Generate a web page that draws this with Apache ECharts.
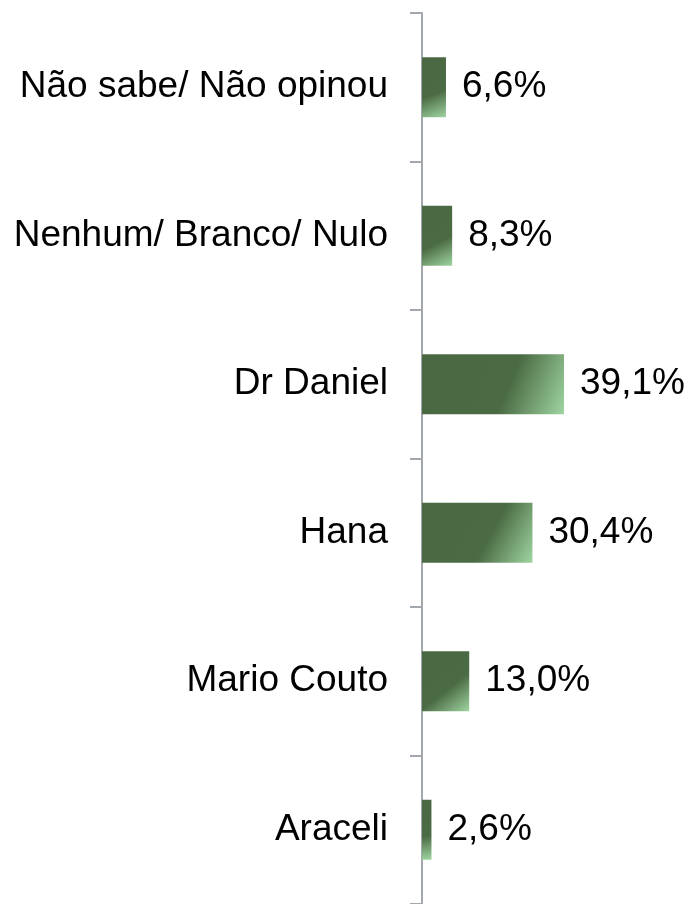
<!DOCTYPE html>
<html>
<head>
<meta charset="utf-8">
<script src="https://cdn.jsdelivr.net/npm/echarts@6/dist/echarts.min.js"></script>
<style>
  html, body { margin: 0; padding: 0; background: #fff; }
  #chart { width: 689px; height: 904px; }
</style>
</head>
<body>
<div id="chart"></div>
<script>
  // top to bottom
  const categories = ['Não sabe/ Não opinou', 'Nenhum/ Branco/ Nulo', 'Dr Daniel', 'Hana', 'Mario Couto', 'Araceli']
  const values = [6.6, 8.3, 39.1, 30.4, 13.0, 2.6]

  const chart = echarts.init(document.getElementById('chart'))
  chart.setOption({
    animation: false,
    textStyle: {fontFamily: 'Liberation Sans, Arial, sans-serif'},
    grid: {
      left: 422,
      right: 0,
      top: 13,
      height: 894
    },
    xAxis: {
      type: 'value',
      min: 0,
      max: 73.5,
      show: false
    },
    yAxis: {
      type: 'category',
      inverse: true,
      data: categories,
      axisLine: {show: true, lineStyle: {color: '#a3a8ae', width: 2}},
      axisTick: {show: true, length: 12, lineStyle: {color: '#a3a8ae', width: 2}},
      axisLabel: {
        color: '#000',
        fontSize: 37,
        margin: 34
      }
    },
    series: [{
      type: 'bar',
      data: values,
      barWidth: 60,
      itemStyle: {
        color: {
          type: 'linear',
          x: 0, y: 0, x2: 1, y2: 1,
          colorStops: [
            {offset: 0, color: '#4a6942'},
            {offset: 0.6, color: '#4b6b44'},
            {offset: 1, color: '#9fd5a1'}
          ]
        }
      },
      label: {
        show: true,
        position: 'right',
        distance: 16,
        color: '#000',
        fontSize: 37,
        formatter: p => p.value.toFixed(1).replace('.', ',') + '%'
      }
    }]
  })
</script>
</body>
</html>
